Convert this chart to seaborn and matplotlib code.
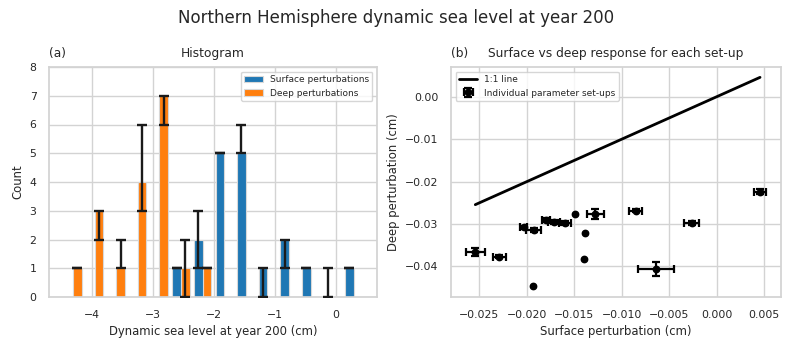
import numpy as np
import pandas as pd
import matplotlib
matplotlib.use("Agg")
import matplotlib.pyplot as plt
import seaborn as sns

# ---------------- data ----------------
# Histogram (panel a): 14 common bins
bin_lo, bin_hi, n_bins = -4.483, 0.466, 14
surface_counts = [0, 0, 0, 0, 0, 1, 2, 5, 5, 1, 2, 1, 0, 1]
deep_counts = [1, 3, 1, 4, 7, 1, 1, 0, 0, 0, 0, 0, 0, 0]
surface_lo = [0, 0, 0, 0, 0, 1, 1, 5, 5, 0, 1, 1, 0, 1]
surface_hi = [0, 0, 0, 0, 0, 1, 3, 5, 6, 1, 2, 1, 1, 1]
deep_lo = [1, 2, 1, 3, 6, 0, 1, 0, 0, 0, 0, 0, 0, 0]
deep_hi = [1, 3, 2, 6, 7, 2, 1, 0, 0, 0, 0, 0, 0, 0]
hist_labels = ["Surface perturbations", "Deep perturbations"]

# Scatter (panel b)
surf = [-0.02544, -0.02292, -0.02036, -0.01930, -0.01934, -0.01797, -0.01713, -0.01597,
        -0.01492, -0.01383, -0.01394, -0.01278, -0.00853, -0.00263, 0.00456, -0.00642]
deep = [-0.03654, -0.03772, -0.03082, -0.03137, -0.04470, -0.02902, -0.02956, -0.02980,
        -0.02760, -0.03214, -0.03819, -0.02768, -0.02682, -0.02980, -0.02235, -0.04062]
surf_err = [0.0010, 0.0007, 0.0004, 0.0008, np.nan, 0.0004, 0.0006, 0.0006,
            np.nan, np.nan, np.nan, 0.0009, 0.0007, 0.0008, 0.0006, 0.0019]
deep_err = [0.0009, 0.0004, 0.0004, 0.0005, np.nan, 0.0004, 0.0005, 0.0005,
            np.nan, np.nan, np.nan, 0.0012, 0.0004, 0.0005, 0.0005, 0.0017]

# ---------------- style ----------------
sns.set_theme(style="whitegrid")
plt.rcParams["font.family"] = ["DejaVu Sans"]
plt.rcParams.update({
    "grid.color": "#d3d3d3",
    "axes.edgecolor": "#d3d3d3",
    "xtick.labelsize": 7.8,
    "ytick.labelsize": 7.8,
    "axes.labelsize": 8.4,
    "axes.titlesize": 8.8,
    "legend.fontsize": 6.5,
    "text.color": "#262626",
})

fig = plt.figure(figsize=(7.93, 3.5), dpi=100)
ax1 = fig.add_axes([49 / 793, 53 / 350, 328 / 793, 230 / 350])
ax2 = fig.add_axes([451 / 793, 53 / 350, 330 / 793, 230 / 350])

blue, orange = "#1f77b4", "#ff7f0e"

# ---------------- panel a ----------------
width = (bin_hi - bin_lo) / n_bins
left_edges = bin_lo + width * np.arange(n_bins)
centers = left_edges + width / 2
df = pd.DataFrame({
    "value": np.concatenate([centers, centers]),
    "count": np.array(surface_counts + deep_counts, dtype=float),
    "kind": [hist_labels[0]] * n_bins + [hist_labels[1]] * n_bins,
})
sns.histplot(data=df, x="value", weights="count", hue="kind", hue_order=hist_labels,
             bins=n_bins, binrange=(bin_lo, bin_hi), multiple="dodge", shrink=0.8,
             palette=[blue, orange], alpha=1, edgecolor="#d8d8d8", linewidth=0.8, ax=ax1)

for k, (cnt, lo, hi) in enumerate([(surface_counts, surface_lo, surface_hi),
                                   (deep_counts, deep_lo, deep_hi)]):
    xpos = left_edges + width * (0.3 + 0.4 * k)
    cnt, lo, hi = map(np.asarray, (cnt, lo, hi))
    m = hi > 0
    ax1.errorbar(xpos[m], cnt[m], yerr=[cnt[m] - lo[m], hi[m] - cnt[m]], fmt="none",
                 ecolor="k", elinewidth=1.7, capsize=3.4, capthick=1.7, zorder=5)

ax1.set_xlim(-4.70, 0.67)
ax1.set_ylim(0, 8)
ax1.set_xlabel("Dynamic sea level at year 200 (cm)")
ax1.set_ylabel("Count")
ax1.set_title("Histogram", pad=7)
ax1.set_title("(a)", loc="left", pad=7)
sns.move_legend(ax1, "upper right", title=None, frameon=True)

# ---------------- panel b ----------------
line_x = [min(surf), max(surf)]
sns.lineplot(x=line_x, y=line_x, color="black", linewidth=2, label="1:1 line", ax=ax2)
ax2.errorbar(surf, deep, xerr=surf_err, yerr=deep_err, fmt="o", color="black", ms=4.6,
             elinewidth=1.6, capsize=3, capthick=1.6, label="Individual parameter set-ups")
ax2.set_xlim(-0.0280, 0.00677)
ax2.set_ylim(-0.0472, 0.0070)
ax2.set_xlabel("Surface perturbation (cm)")
ax2.set_ylabel("Deep perturbation (cm)")
ax2.set_title("Surface vs deep response for each set-up", pad=7)
ax2.set_title("(b)", loc="left", pad=7)
ax2.legend(loc="upper left", frameon=True)

for ax in (ax1, ax2):
    ax.tick_params(axis="both", length=0, pad=9)
    for s in ax.spines.values():
        s.set_color("#d3d3d3")

fig.text(0.5, 1 - 18 / 350, "Northern Hemisphere dynamic sea level at year 200",
         ha="center", va="center", fontsize=12)

fig.savefig("out.png", dpi=100)
